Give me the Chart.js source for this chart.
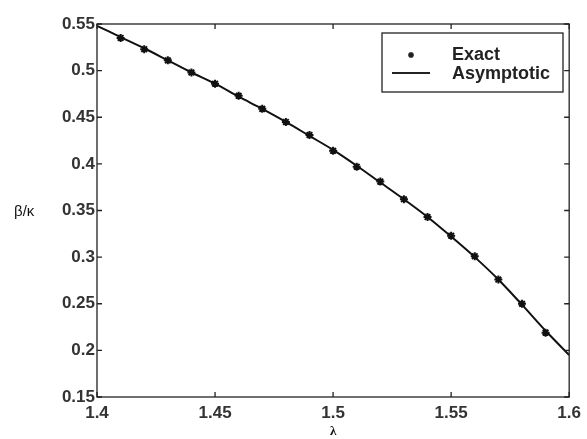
<!DOCTYPE html>
<html>
<head>
<meta charset="utf-8">
<script src="https://cdn.jsdelivr.net/npm/chart.js@4"></script>
<style>
    html, body { margin: 0; padding: 0; background: #fff; }
    #wrap { width: 587px; height: 439px; }
</style>
</head>
<body>
<div id="wrap"><canvas id="beta-chart" width="587" height="439"></canvas></div>
<script>
/* ============================================= */
/*                    Data                       */
/* ============================================= */

// lambda values where the exact solution was computed
const exactLambda = [1.41, 1.42, 1.43, 1.44, 1.45, 1.46, 1.47, 1.48, 1.49, 1.50,
                     1.51, 1.52, 1.53, 1.54, 1.55, 1.56, 1.57, 1.58, 1.59];
const exactBeta   = [0.535, 0.523, 0.511, 0.498, 0.486, 0.473, 0.459, 0.445, 0.431, 0.414,
                     0.397, 0.381, 0.362, 0.343, 0.323, 0.301, 0.276, 0.250, 0.219];

// asymptotic curve
const asymLambda = [1.40, 1.41, 1.42, 1.43, 1.44, 1.45, 1.46, 1.47, 1.48, 1.49, 1.50,
                    1.51, 1.52, 1.53, 1.54, 1.55, 1.56, 1.57, 1.58, 1.59, 1.60];
const asymBeta   = [0.548, 0.536, 0.524, 0.511, 0.498, 0.486, 0.472, 0.459, 0.445, 0.430, 0.415,
                    0.398, 0.380, 0.362, 0.343, 0.322, 0.300, 0.276, 0.249, 0.221, 0.195];

const xTicks = [1.4, 1.45, 1.5, 1.55, 1.6];
const yTicks = [0.15, 0.2, 0.25, 0.3, 0.35, 0.4, 0.45, 0.5, 0.55];

const legendLabels = ['Exact', 'Asymptotic'];
const xTitle = 'λ';
const yTitle = 'β/κ';

const toPoints = (xs, ys) => xs.map((x, i) => ({ x: x, y: ys[i] }));

/* ============================================= */
/*                  Plugins                      */
/* ============================================= */

// box round the plot with inward ticks on all four sides
const frameTicks = {
    id: 'frameTicks',
    afterDraw(chart) {
        const ctx = chart.ctx;
        const a = chart.chartArea;
        const xs = chart.scales.x;
        const ys = chart.scales.y;
        ctx.save();
        ctx.strokeStyle = '#222';
        ctx.lineWidth = 1.3;
        ctx.strokeRect(a.left, a.top, a.right - a.left, a.bottom - a.top);
        ctx.beginPath();
        xTicks.forEach(v => {
            const px = xs.getPixelForValue(v);
            ctx.moveTo(px, a.bottom); ctx.lineTo(px, a.bottom - 5);
            ctx.moveTo(px, a.top); ctx.lineTo(px, a.top + 5);
        });
        yTicks.forEach(v => {
            const py = ys.getPixelForValue(v);
            ctx.moveTo(a.left, py); ctx.lineTo(a.left + 5, py);
            ctx.moveTo(a.right, py); ctx.lineTo(a.right - 5, py);
        });
        ctx.stroke();

        // axis titles, written flat like the original
        ctx.fillStyle = '#111';
        ctx.font = '15px "Liberation Sans"';
        ctx.textAlign = 'left';
        ctx.textBaseline = 'middle';
        ctx.fillText(yTitle, 14, 212);
        ctx.textAlign = 'center';
        ctx.font = 'bold 13px "Liberation Serif"';
        ctx.fillText(xTitle, (a.left + a.right) / 2, 432);
        ctx.restore();
    }
};

// legend box in the upper right corner
const boxLegend = {
    id: 'boxLegend',
    afterDraw(chart) {
        const ctx = chart.ctx;
        ctx.save();
        ctx.strokeStyle = '#222';
        ctx.lineWidth = 1.3;
        ctx.strokeRect(382, 33, 181, 59);

        ctx.fillStyle = '#222';
        ctx.font = 'bold 18px "Liberation Sans"';
        ctx.textAlign = 'left';
        ctx.textBaseline = 'middle';
        ctx.fillText(legendLabels[0], 452, 55);
        ctx.fillText(legendLabels[1], 452, 74);

        // marker sample
        ctx.beginPath();
        const mx = 411, my = 55, r = 3;
        ctx.moveTo(mx - r, my); ctx.lineTo(mx + r, my);
        ctx.moveTo(mx, my - r); ctx.lineTo(mx, my + r);
        ctx.moveTo(mx - r * 0.7, my - r * 0.7); ctx.lineTo(mx + r * 0.7, my + r * 0.7);
        ctx.moveTo(mx - r * 0.7, my + r * 0.7); ctx.lineTo(mx + r * 0.7, my - r * 0.7);
        ctx.lineWidth = 1.5;
        ctx.stroke();

        // line sample
        ctx.beginPath();
        ctx.moveTo(392, 73);
        ctx.lineTo(430, 73);
        ctx.lineWidth = 2;
        ctx.stroke();
        ctx.restore();
    }
};

/* ============================================= */
/*                   Chart                       */
/* ============================================= */

const canvas = document.getElementById('beta-chart');

const chartData = {
    datasets: [
        {
            label: legendLabels[0],
            data: toPoints(exactLambda, exactBeta),
            showLine: false,
            pointStyle: 'star',
            pointRadius: 4,
            borderWidth: 2,
            borderColor: '#111',
            backgroundColor: '#111',
            order: 0
        },
        {
            label: legendLabels[1],
            data: toPoints(asymLambda, asymBeta),
            showLine: true,
            tension: 0.3,
            pointRadius: 0,
            borderWidth: 2,
            borderColor: '#111',
            order: 1
        }
    ]
};

const tickFont = { family: 'Liberation Sans', size: 17, weight: 'bold' };

const chartOptions = {
    responsive: false,
    animation: false,
    layout: {
        padding: { left: 0, top: 24, right: 15, bottom: 0 }
    },
    scales: {
        x: {
            type: 'linear',
            min: 1.4,
            max: 1.6,
            grid: { display: false, drawTicks: false },
            border: { display: false },
            afterBuildTicks: scale => { scale.ticks = xTicks.map(v => ({ value: v })); },
            afterFit: scale => { scale.height = 42; },
            ticks: {
                padding: 6,
                maxRotation: 0,
                color: '#333',
                font: tickFont,
                callback: v => String(+v.toFixed(2))
            }
        },
        y: {
            type: 'linear',
            min: 0.15,
            max: 0.55,
            grid: { display: false, drawTicks: false },
            border: { display: false },
            afterBuildTicks: scale => { scale.ticks = yTicks.map(v => ({ value: v })); },
            afterFit: scale => { scale.width = 97; },
            ticks: {
                padding: 2,
                color: '#333',
                font: tickFont,
                callback: v => String(+v.toFixed(2))
            }
        }
    },
    plugins: {
        legend: { display: false },
        tooltip: { enabled: false }
    }
};

let betaChart = new Chart(canvas, {
    type: 'scatter',
    data: chartData,
    options: chartOptions,
    plugins: [frameTicks, boxLegend]
});
</script>
</body>
</html>
